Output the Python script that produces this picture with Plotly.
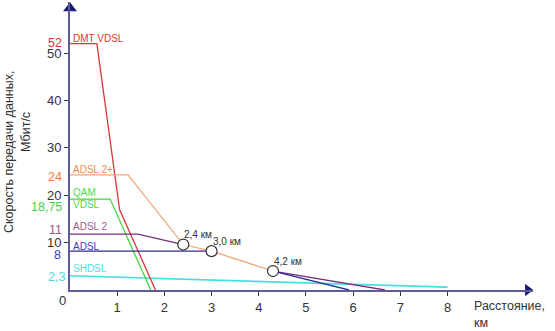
import plotly.graph_objects as go

# ---------------- data ----------------
dmt_x = [0, 0.57, 1.05, 1.81]
dmt_y = [52, 52, 17, 0]
adsl2p_x = [0, 1.23, 2.4, 3.0, 4.3]
adsl2p_y = [24.3, 24.3, 9.6, 8.2, 4.0]
qam_x = [0, 0.85, 1.71]
qam_y = [19.2, 19.2, 0]
# ADSL 2 and ADSL run under the ADSL 2+ line between the circles (hidden part = gap)
adsl2_x = [0, 1.44, 2.4, None, 4.3, 6.67]
adsl2_y = [11.8, 11.8, 9.6, None, 4.0, 0]
adsl_x = [0, 3.0, None, 4.3, 5.91]
adsl_y = [8.2, 8.2, None, 4.0, 0]
shdsl_x = [0, 8.0]
shdsl_y = [3.0, 0.6]

circle_x = [2.4, 3.0, 4.3]
circle_y = [9.6, 8.2, 4.0]
circle_labels = ["2,4 км", "3,0 км", "4,2 км"]

x_ticks = [1, 2, 3, 4, 5, 6, 7, 8]
y_ticks = [10, 20, 30, 40, 50]

value_labels = ["52", "24", "18,75", "11", "8", "2,3"]
value_label_y = [52, 24.3, 19.2, 11.8, 8.2, 3.0]

series_names = ["DMT VDSL", "ADSL 2+", "QAM", "VDSL", "ADSL 2", "ADSL", "SHDSL"]

x_range = [0, 9.81]
y_range = [0, 60.8]

# ---------------- styles ----------------
FONT = "Liberation Sans, Arial, sans-serif"
C_RED, T_RED = "#d8363a", "#dc3434"
C_ORA, T_ORA = "#f2a47a", "#ef8a48"
C_GRN, T_GRN = "#44d444", "#4cdc4c"
C_PUR, T_PUR = "#7a2c7a", "#9c5a8c"
C_BLU, T_BLU = "#2c2c90", "#3a3ac4"
C_CYN, T_CYN = "#44e0e0", "#55dede"
AXIS = "#5c5c98"
NAVY = "#1a1a78"
DARK = "#333333"

fig = go.Figure()

def line(x, y, color, w=1.3):
    fig.add_trace(go.Scatter(x=x, y=y, mode="lines", line=dict(color=color, width=w),
                             connectgaps=False, hoverinfo="skip", showlegend=False,
                             cliponaxis=False))

line(shdsl_x, shdsl_y, C_CYN, 1.6)
line(qam_x, qam_y, C_GRN)
line(dmt_x, dmt_y, C_RED)
line(adsl2_x, adsl2_y, C_PUR)
line(adsl_x, adsl_y, C_BLU)
line(adsl2p_x, adsl2p_y, C_ORA)

# circles
fig.add_trace(go.Scatter(x=circle_x, y=circle_y, mode="markers",
                         marker=dict(size=11, color="white", line=dict(color=DARK, width=1.2)),
                         hoverinfo="skip", showlegend=False, cliponaxis=False))

# axis arrowheads
fig.add_trace(go.Scatter(x=[x_range[0]], y=[y_range[1] - 1.3], mode="markers",
                         marker=dict(symbol="triangle-up", size=12, color=NAVY),
                         hoverinfo="skip", showlegend=False, cliponaxis=False))
fig.add_trace(go.Scatter(x=[x_range[1] - 0.11], y=[y_range[0]], mode="markers",
                         marker=dict(symbol="triangle-right", size=11, color=NAVY),
                         hoverinfo="skip", showlegend=False, cliponaxis=False))

ann = []
# circle labels
for cx, cy, t in zip(circle_x, circle_y, circle_labels):
    ann.append(dict(x=cx, y=cy, text=t, showarrow=False, xanchor="left", yanchor="middle",
                    xshift=-1, yshift=10, font=dict(size=10, color=DARK, family=FONT)))

# series labels inside the plot
name_y = [dmt_y[0], adsl2p_y[0], qam_y[0], qam_y[0], adsl2_y[0], adsl_y[0], shdsl_y[0]]
name_col = [T_RED, T_ORA, T_GRN, T_GRN, T_PUR, T_BLU, T_CYN]
name_shift = [5, 5, 7, -5, 8, 5, 7]
for n, yv, c, s in zip(series_names, name_y, name_col, name_shift):
    ann.append(dict(x=0, y=yv, text=n, showarrow=False, xanchor="left", yanchor="middle",
                    xshift=1, yshift=s, font=dict(size=10, color=c, family=FONT)))

# coloured value labels on the left
val_col = [T_RED, "#ee7c34", "#44d444", "#9a5a8a", "#3a3ad0", "#50dada"]
val_shift = [1, -2, -8, 4, -4, -1]
val_x = [-6, -6, -6, -6, -7, -3]
for t, yv, c, s, xs in zip(value_labels, value_label_y, val_col, val_shift, val_x):
    ann.append(dict(x=0, y=yv, text=t, showarrow=False, xanchor="right", yanchor="middle",
                    xshift=xs, yshift=s, font=dict(size=12.5, color=c, family=FONT)))

# origin zero
ann.append(dict(x=0, y=0, text="0", showarrow=False, xanchor="right", yanchor="top",
                xshift=-2, yshift=-1, font=dict(size=13, color=DARK, family=FONT)))

# axis titles
ann.append(dict(xref="paper", yref="paper", x=0, y=0.479, text="Скорость передачи данных,",
                textangle=-90, showarrow=False, xanchor="center", yanchor="middle", xshift=-61,
                font=dict(size=12.5, color=DARK, family=FONT)))
ann.append(dict(xref="paper", yref="paper", x=0, y=0.549, text="Мбит/с",
                textangle=-90, showarrow=False, xanchor="center", yanchor="middle", xshift=-44,
                font=dict(size=12.5, color=DARK, family=FONT)))
ann.append(dict(xref="paper", yref="paper", x=0.868, y=-0.056, text="Расстояние,",
                showarrow=False, xanchor="left", yanchor="middle",
                font=dict(size=12.5, color=DARK, family=FONT)))
ann.append(dict(xref="paper", yref="paper", x=0.868, y=-0.116, text="км",
                showarrow=False, xanchor="left", yanchor="middle",
                font=dict(size=12.5, color=DARK, family=FONT)))

fig.update_layout(
    width=555, height=331,
    margin=dict(l=70, r=22, t=2, b=41),
    paper_bgcolor="white", plot_bgcolor="white",
    font=dict(family=FONT, color=DARK),
    annotations=ann,
    xaxis=dict(range=x_range, tickvals=x_ticks, ticktext=[str(v) for v in x_ticks],
               showline=True, linecolor=AXIS, linewidth=2, ticks="outside", ticklen=4,
               tickcolor=DARK, tickwidth=1, tickfont=dict(size=13, color=DARK),
               showgrid=False, zeroline=False, fixedrange=True),
    yaxis=dict(range=y_range, tickvals=y_ticks, ticktext=[str(v) for v in y_ticks],
               showline=True, linecolor=AXIS, linewidth=2, ticks="outside", ticklen=4,
               tickcolor=DARK, tickwidth=1, tickfont=dict(size=13, color=DARK),
               showgrid=False, zeroline=False, fixedrange=True),
)

fig.write_html("out.html", config={"displayModeBar": False})
